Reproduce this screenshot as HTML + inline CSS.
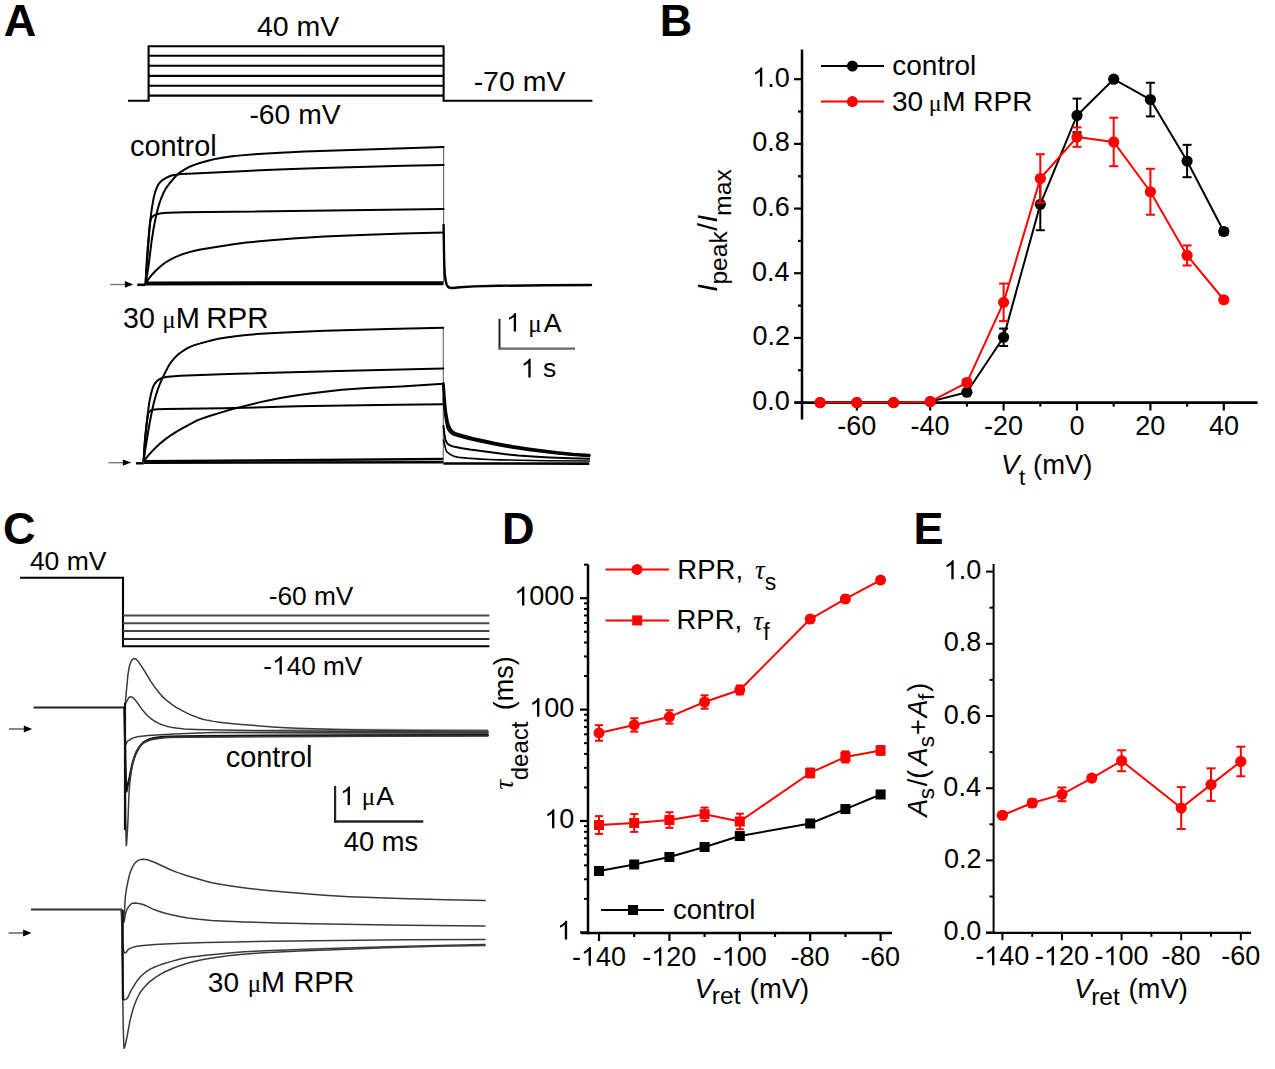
<!DOCTYPE html>
<html><head><meta charset="utf-8"><style>
html,body{margin:0;padding:0;background:#fff;}
body{width:1275px;height:1069px;overflow:hidden;font-family:"Liberation Sans", sans-serif;}
svg{display:block;}
</style></head><body>
<svg width="1275" height="1069" viewBox="0 0 1275 1069">
<text x="3.78" y="36.3" font-family='"Liberation Sans", sans-serif' font-size="45" font-weight="bold" font-style="normal" fill="#000">A</text>
<path d="M128,100.7 L148.6,100.7 L148.6,46.2 L443.6,46.2 L443.6,100.7 L592.4,100.7" fill="none" stroke="#000" stroke-width="2.1" stroke-linejoin="miter"/>
<line x1="148.6" y1="55.7" x2="443.6" y2="55.7" stroke="#000" stroke-width="2.1" stroke-linecap="butt"/>
<line x1="148.6" y1="65.7" x2="443.6" y2="65.7" stroke="#000" stroke-width="2.1" stroke-linecap="butt"/>
<line x1="148.6" y1="75.9" x2="443.6" y2="75.9" stroke="#000" stroke-width="2.1" stroke-linecap="butt"/>
<line x1="148.6" y1="85.8" x2="443.6" y2="85.8" stroke="#000" stroke-width="2.1" stroke-linecap="butt"/>
<line x1="148.6" y1="95.6" x2="443.6" y2="95.6" stroke="#000" stroke-width="2.1" stroke-linecap="butt"/>
<text x="256.95" y="35.8" font-family='"Liberation Sans", sans-serif' font-size="28.5" font-weight="normal" font-style="normal" fill="#000">40 mV</text>
<text x="249.44" y="123.8" font-family='"Liberation Sans", sans-serif' font-size="28.3" font-weight="normal" font-style="normal" fill="#000">-60 mV</text>
<text x="473.63" y="91.3" font-family='"Liberation Sans", sans-serif' font-size="28.5" font-weight="normal" font-style="normal" fill="#000">-70 mV</text>
<text x="129.97" y="156.4" font-family='"Liberation Sans", sans-serif' font-size="28.9" font-weight="normal" font-style="normal" fill="#000">control</text>
<line x1="110.2" y1="284.5" x2="125.5" y2="284.5" stroke="#777" stroke-width="1.4" stroke-linecap="butt"/>
<path d="M133.3,284.4 l-8.4,-3.4 l0,6.8 z" fill="#000"/>
<line x1="137.3" y1="284.8" x2="145.5" y2="284.8" stroke="#000" stroke-width="2.6" stroke-linecap="butt"/>
<line x1="145.5" y1="283.4" x2="443.6" y2="283.2" stroke="#000" stroke-width="4.0" stroke-linecap="butt"/>
<line x1="443.6" y1="146.9" x2="443.6" y2="283" stroke="#666" stroke-width="1.1" stroke-linecap="butt"/>
<path d="M443.60,225.00 444.10,258.43 444.40,267.01 444.80,273.89 445.40,279.08 446.20,283.14 446.70,284.45 447.50,286.00 448.20,286.95 448.90,287.46 450.90,287.93 452.80,287.99 459.90,287.31 474.10,286.42 498.70,285.79 547.00,285.25 591.00,285.00" fill="none" stroke="#000" stroke-width="2.4" stroke-linejoin="round" stroke-linecap="round" stroke-opacity="1"/>
<path d="M145.50,283.30 149.20,232.51 149.90,224.20 150.80,216.02 151.70,209.34 153.00,201.46 154.10,195.97 155.00,192.65 156.50,188.32 157.80,185.40 159.00,183.50 161.00,181.36 163.30,179.55 166.60,177.64 170.10,175.98 172.60,175.20 176.20,174.64 181.20,174.11 188.20,173.63 246.50,170.93 285.10,169.33 322.30,167.96 359.20,166.90 404.00,165.81 443.60,165.10" fill="none" stroke="#000" stroke-width="2.0" stroke-linejoin="round" stroke-linecap="round" stroke-opacity="1"/>
<path d="M145.80,283.30 148.50,266.30 151.60,241.00 153.80,227.28 155.50,218.60 157.50,209.92 158.90,204.91 161.10,198.54 163.50,192.84 166.10,188.13 169.20,183.73 173.80,178.29 177.20,174.75 180.10,172.30 184.70,169.29 189.60,166.74 194.30,164.83 199.80,163.01 209.80,160.22 216.50,158.65 223.60,157.49 232.30,156.34 241.30,155.38 251.30,154.52 275.70,152.90 304.60,151.53 443.60,146.90" fill="none" stroke="#000" stroke-width="2.0" stroke-linejoin="round" stroke-linecap="round" stroke-opacity="1"/>
<path d="M145.60,283.30 146.30,268.08 147.40,251.21 149.30,229.62 150.30,221.27 150.60,220.00 151.30,218.29 152.00,217.16 152.80,216.32 153.70,215.66 154.70,215.14 156.90,214.31 159.00,213.69 161.60,213.23 167.60,212.81 185.40,212.30 443.60,209.00" fill="none" stroke="#000" stroke-width="2.0" stroke-linejoin="round" stroke-linecap="round" stroke-opacity="1"/>
<path d="M145.70,283.20 148.30,279.42 150.70,276.26 153.10,273.46 155.70,270.77 158.90,267.79 163.00,264.32 165.50,262.49 168.70,260.53 172.60,258.41 176.50,256.56 180.20,255.06 184.90,253.43 189.30,252.11 193.70,250.99 199.10,249.85 205.20,248.74 231.80,244.56 246.30,242.60 268.10,240.45 292.80,238.55 324.40,236.62 354.50,235.19 403.60,233.45 443.60,232.50" fill="none" stroke="#000" stroke-width="2.0" stroke-linejoin="round" stroke-linecap="round" stroke-opacity="1"/>
<text x="123.11" y="327.6" font-family='"Liberation Sans", sans-serif' font-size="28.6" font-weight="normal" font-style="normal" fill="#000">30</text>
<text x="162.37" y="327.6" font-family='"Liberation Serif", serif' font-size="25" font-weight="normal" font-style="normal" fill="#000">μ</text>
<text x="175.82" y="327.6" font-family='"Liberation Sans", sans-serif' font-size="29" font-weight="normal" font-style="normal" fill="#000">M</text>
<text x="206.18" y="327.6" font-family='"Liberation Sans", sans-serif' font-size="29.5" font-weight="normal" font-style="normal" fill="#000">RPR</text>
<line x1="108.6" y1="462.7" x2="123.5" y2="462.7" stroke="#777" stroke-width="1.4" stroke-linecap="butt"/>
<path d="M131.2,462.6 l-8.4,-3.2 l0,6.4 z" fill="#000"/>
<line x1="136" y1="463.3" x2="143.6" y2="463.3" stroke="#000" stroke-width="2.4" stroke-linecap="butt"/>
<line x1="143.6" y1="462.6" x2="443.3" y2="462.3" stroke="#000" stroke-width="2.6" stroke-linecap="butt"/>
<line x1="143.6" y1="461.2" x2="443.3" y2="459" stroke="#000" stroke-width="2.4" stroke-linecap="butt"/>
<line x1="443.3" y1="327.8" x2="443.3" y2="462" stroke="#666" stroke-width="1.1" stroke-linecap="butt"/>
<line x1="443.3" y1="463.5" x2="589.3" y2="463.6" stroke="#000" stroke-width="2.6" stroke-linecap="butt"/>
<path d="M143.60,461.00 145.60,447.58 148.50,429.52 150.00,421.10 152.20,410.03 153.90,402.58 155.80,395.61 157.80,389.35 159.90,383.82 162.80,377.36 167.70,367.59 170.10,363.51 172.50,360.34 176.30,356.19 178.30,354.36 180.30,352.74 185.40,349.33 188.00,347.88 190.60,346.63 194.50,345.11 199.40,343.60 211.10,340.45 218.40,338.82 228.00,337.22 237.50,335.90 246.20,334.95 256.50,334.10 269.90,333.21 285.00,332.40 325.00,330.77 387.60,328.98 443.30,327.80" fill="none" stroke="#000" stroke-width="2.0" stroke-linejoin="round" stroke-linecap="round" stroke-opacity="1"/>
<path d="M143.60,461.00 145.00,440.52 146.70,422.55 149.00,404.32 149.80,399.57 151.00,394.19 152.10,389.99 153.10,386.93 154.00,384.93 155.30,383.02 157.00,381.08 158.80,379.63 161.00,378.49 163.70,377.48 165.80,376.96 168.10,376.67 180.10,375.72 228.30,373.88 348.60,370.71 443.30,368.60" fill="none" stroke="#000" stroke-width="2.0" stroke-linejoin="round" stroke-linecap="round" stroke-opacity="1"/>
<path d="M143.60,461.00 144.30,447.74 145.10,437.81 146.10,428.44 147.90,415.13 148.40,413.01 149.10,411.99 150.70,410.58 151.60,410.11 152.50,409.85 157.80,409.34 165.30,409.07 222.80,408.27 296.80,406.32 378.50,404.97 443.30,404.30" fill="none" stroke="#000" stroke-width="2.0" stroke-linejoin="round" stroke-linecap="round" stroke-opacity="1"/>
<path d="M143.70,461.00 148.20,455.55 152.40,450.87 156.30,446.96 160.60,443.10 165.50,439.15 170.80,435.31 175.80,432.05 181.70,428.59 193.90,422.01 197.80,420.19 201.80,418.60 208.10,416.44 222.10,412.13 231.00,409.52 238.90,407.38 260.30,402.13 269.30,400.17 277.70,398.53 289.30,396.52 300.90,394.72 312.10,393.18 324.70,391.66 341.80,389.83 356.10,388.65 366.70,388.04 401.30,386.41 443.30,383.70" fill="none" stroke="#000" stroke-width="2.0" stroke-linejoin="round" stroke-linecap="round" stroke-opacity="1"/>
<path d="M443.30,383.70 444.30,397.68 445.40,409.33 446.10,414.62 447.40,421.55 448.50,425.50 450.30,429.19 451.20,430.52 452.10,431.52 453.00,432.20 454.30,432.92 456.60,433.85 462.70,435.75 472.90,438.39 494.90,443.17 503.90,444.91 512.50,446.42 530.60,449.16 556.40,452.57 573.20,454.18 589.30,455.30" fill="none" stroke="#000" stroke-width="3.0" stroke-linejoin="round" stroke-linecap="round" stroke-opacity="1"/>
<path d="M443.30,398.00 444.10,407.70 444.80,414.50 446.00,422.40 447.00,427.09 447.40,428.28 448.10,429.67 449.80,432.17 451.50,433.69 453.80,434.85 456.00,435.59 466.50,438.52 479.60,441.69 495.50,444.96 512.10,447.84 531.00,450.57 553.70,453.33 571.40,455.01 589.30,456.30" fill="none" stroke="#000" stroke-width="1.8" stroke-linejoin="round" stroke-linecap="round" stroke-opacity="1"/>
<path d="M443.50,426.00 444.30,433.31 444.90,437.59 445.30,439.30 446.50,442.09 447.60,443.75 448.70,444.70 451.30,445.92 454.60,446.85 461.90,448.33 470.00,449.59 504.00,454.05 518.40,455.61 532.50,456.60 549.60,457.47 570.10,458.22 589.30,458.70" fill="none" stroke="#000" stroke-width="2.0" stroke-linejoin="round" stroke-linecap="round" stroke-opacity="1"/>
<path d="M443.50,440.00 445.60,448.70 446.30,450.81 446.90,451.90 449.50,453.94 452.30,455.51 455.30,456.63 458.60,457.33 467.20,458.16 477.50,458.91 488.30,459.46 500.30,459.88 547.60,460.71 589.30,461.00" fill="none" stroke="#000" stroke-width="1.6" stroke-linejoin="round" stroke-linecap="round" stroke-opacity="1"/>
<line x1="499.5" y1="318.8" x2="499.5" y2="349.5" stroke="#222" stroke-width="2.0" stroke-linecap="butt"/>
<line x1="498.5" y1="348.6" x2="575" y2="348.6" stroke="#666" stroke-width="2.4" stroke-linecap="butt"/>
<path transform="translate(506.18,331.5) scale(0.01294,-0.01262)" d="M763,0H583V1147Q518,1085 412,1023Q306,961 222,930V1104Q373,1175 486,1276Q599,1377 646,1472H763Z" fill="#000"/>
<text x="528.27" y="331.5" font-family='"Liberation Serif", serif' font-size="25" font-weight="normal" font-style="normal" fill="#000">μ</text>
<text x="543.75" y="331.5" font-family='"Liberation Sans", sans-serif' font-size="26.5" font-weight="normal" font-style="normal" fill="#000">A</text>
<path transform="translate(520.78,377.4) scale(0.01294,-0.01262)" d="M763,0H583V1147Q518,1085 412,1023Q306,961 222,930V1104Q373,1175 486,1276Q599,1377 646,1472H763Z" fill="#000"/>
<text x="542.88" y="377.4" font-family='"Liberation Sans", sans-serif' font-size="26.5" font-weight="normal" font-style="normal" fill="#000">s</text>
<text x="659.79" y="36.3" font-family='"Liberation Sans", sans-serif' font-size="45" font-weight="bold" font-style="normal" fill="#000">B</text>
<line x1="802" y1="49.6" x2="802" y2="419.6" stroke="#000" stroke-width="2.5" stroke-linecap="butt"/>
<line x1="795" y1="402.6" x2="1257.6" y2="402.6" stroke="#000" stroke-width="2.6" stroke-linecap="butt"/>
<line x1="794" y1="402.6" x2="802" y2="402.6" stroke="#000" stroke-width="2.2" stroke-linecap="butt"/>
<text x="752.22" y="409.9" font-family='"Liberation Sans", sans-serif' font-size="27" font-weight="normal" font-style="normal" fill="#000">0.0</text>
<line x1="798" y1="370.26" x2="802" y2="370.26" stroke="#000" stroke-width="2.2" stroke-linecap="butt"/>
<line x1="794" y1="337.92" x2="802" y2="337.92" stroke="#000" stroke-width="2.2" stroke-linecap="butt"/>
<text x="752.52" y="345.22" font-family='"Liberation Sans", sans-serif' font-size="27" font-weight="normal" font-style="normal" fill="#000">0.2</text>
<line x1="798" y1="305.58" x2="802" y2="305.58" stroke="#000" stroke-width="2.2" stroke-linecap="butt"/>
<line x1="794" y1="273.24" x2="802" y2="273.24" stroke="#000" stroke-width="2.2" stroke-linecap="butt"/>
<text x="751.96" y="280.54" font-family='"Liberation Sans", sans-serif' font-size="27" font-weight="normal" font-style="normal" fill="#000">0.4</text>
<line x1="798" y1="240.9" x2="802" y2="240.9" stroke="#000" stroke-width="2.2" stroke-linecap="butt"/>
<line x1="794" y1="208.56" x2="802" y2="208.56" stroke="#000" stroke-width="2.2" stroke-linecap="butt"/>
<text x="752.35" y="215.86" font-family='"Liberation Sans", sans-serif' font-size="27" font-weight="normal" font-style="normal" fill="#000">0.6</text>
<line x1="798" y1="176.22" x2="802" y2="176.22" stroke="#000" stroke-width="2.2" stroke-linecap="butt"/>
<line x1="794" y1="143.88" x2="802" y2="143.88" stroke="#000" stroke-width="2.2" stroke-linecap="butt"/>
<text x="752.34" y="151.18" font-family='"Liberation Sans", sans-serif' font-size="27" font-weight="normal" font-style="normal" fill="#000">0.8</text>
<line x1="798" y1="111.54" x2="802" y2="111.54" stroke="#000" stroke-width="2.2" stroke-linecap="butt"/>
<line x1="794" y1="79.2" x2="802" y2="79.2" stroke="#000" stroke-width="2.2" stroke-linecap="butt"/>
<path transform="translate(752.22,86.5) scale(0.01318,-0.01285)" d="M763,0H583V1147Q518,1085 412,1023Q306,961 222,930V1104Q373,1175 486,1276Q599,1377 646,1472H763Z" fill="#000"/>
<text x="767.24" y="86.5" font-family='"Liberation Sans", sans-serif' font-size="27" font-weight="normal" font-style="normal" fill="#000">.0</text>
<line x1="820.1" y1="402.6" x2="820.1" y2="406.6" stroke="#000" stroke-width="2.2" stroke-linecap="butt"/>
<line x1="856.8" y1="402.6" x2="856.8" y2="410.5" stroke="#000" stroke-width="2.2" stroke-linecap="butt"/>
<text x="837.22" y="434.6" font-family='"Liberation Sans", sans-serif' font-size="27" font-weight="normal" font-style="normal" fill="#000">-60</text>
<line x1="893.5" y1="402.6" x2="893.5" y2="406.6" stroke="#000" stroke-width="2.2" stroke-linecap="butt"/>
<line x1="930.2" y1="402.6" x2="930.2" y2="410.5" stroke="#000" stroke-width="2.2" stroke-linecap="butt"/>
<text x="910.62" y="434.6" font-family='"Liberation Sans", sans-serif' font-size="27" font-weight="normal" font-style="normal" fill="#000">-40</text>
<line x1="966.9" y1="402.6" x2="966.9" y2="406.6" stroke="#000" stroke-width="2.2" stroke-linecap="butt"/>
<line x1="1003.6" y1="402.6" x2="1003.6" y2="410.5" stroke="#000" stroke-width="2.2" stroke-linecap="butt"/>
<text x="984.02" y="434.6" font-family='"Liberation Sans", sans-serif' font-size="27" font-weight="normal" font-style="normal" fill="#000">-20</text>
<line x1="1040.3" y1="402.6" x2="1040.3" y2="406.6" stroke="#000" stroke-width="2.2" stroke-linecap="butt"/>
<line x1="1077" y1="402.6" x2="1077" y2="410.5" stroke="#000" stroke-width="2.2" stroke-linecap="butt"/>
<text x="1069.49" y="434.6" font-family='"Liberation Sans", sans-serif' font-size="27" font-weight="normal" font-style="normal" fill="#000">0</text>
<line x1="1113.7" y1="402.6" x2="1113.7" y2="406.6" stroke="#000" stroke-width="2.2" stroke-linecap="butt"/>
<line x1="1150.4" y1="402.6" x2="1150.4" y2="410.5" stroke="#000" stroke-width="2.2" stroke-linecap="butt"/>
<text x="1135.23" y="434.6" font-family='"Liberation Sans", sans-serif' font-size="27" font-weight="normal" font-style="normal" fill="#000">20</text>
<line x1="1187.1" y1="402.6" x2="1187.1" y2="406.6" stroke="#000" stroke-width="2.2" stroke-linecap="butt"/>
<line x1="1223.8" y1="402.6" x2="1223.8" y2="410.5" stroke="#000" stroke-width="2.2" stroke-linecap="butt"/>
<text x="1209" y="434.6" font-family='"Liberation Sans", sans-serif' font-size="27" font-weight="normal" font-style="normal" fill="#000">40</text>
<text x="1001.12" y="473.5" font-family='"Liberation Sans", sans-serif' font-size="27.5" font-weight="normal" font-style="italic" fill="#000">V</text>
<text x="1019.06" y="485.2" font-family='"Liberation Sans", sans-serif' font-size="22.5" font-weight="normal" font-style="normal" fill="#000">t</text>
<text x="1033.1" y="473.5" font-family='"Liberation Sans", sans-serif' font-size="27.4" font-weight="normal" font-style="normal" fill="#000">(mV)</text>
<text transform="translate(716.5,291.79) rotate(-90)" font-family='"Liberation Sans", sans-serif' font-size="27.5" font-weight="normal" font-style="italic" fill="#000">I</text>
<text transform="translate(727.3,284.59) rotate(-90)" font-family='"Liberation Sans", sans-serif' font-size="24.6" font-weight="normal" font-style="normal" fill="#000">peak</text>
<text transform="translate(716.5,230.7) rotate(-90)" font-family='"Liberation Sans", sans-serif' font-size="27.5" font-weight="normal" font-style="normal" fill="#000">/</text>
<text transform="translate(716.5,222.59) rotate(-90)" font-family='"Liberation Sans", sans-serif' font-size="27.5" font-weight="normal" font-style="italic" fill="#000">I</text>
<text transform="translate(730.8,215.95) rotate(-90)" font-family='"Liberation Sans", sans-serif' font-size="24.8" font-weight="normal" font-style="normal" fill="#000">max</text>
<line x1="821" y1="66.1" x2="884" y2="66.1" stroke="#000" stroke-width="2" stroke-linecap="butt"/>
<circle cx="852.4" cy="66.1" r="5.5" fill="#000"/>
<text x="892.31" y="74.5" font-family='"Liberation Sans", sans-serif' font-size="28" font-weight="normal" font-style="normal" fill="#000">control</text>
<line x1="821" y1="101.6" x2="884" y2="101.6" stroke="#f00" stroke-width="2" stroke-linecap="butt"/>
<circle cx="852.4" cy="101.6" r="5.5" fill="#f00"/>
<text x="891.93" y="110.9" font-family='"Liberation Sans", sans-serif' font-size="28" font-weight="normal" font-style="normal" fill="#000">30</text>
<text x="928.75" y="110.9" font-family='"Liberation Serif", serif' font-size="24" font-weight="normal" font-style="normal" fill="#000">μ</text>
<text x="942.2" y="110.9" font-family='"Liberation Sans", sans-serif' font-size="28" font-weight="normal" font-style="normal" fill="#000">M RPR</text>
<path d="M820.1,402.6 L856.8,402.6 L893.5,402.6 L930.2,401.63 L966.9,392.25 L1003.6,337.27 L1040.3,204.36 L1077,115.42 L1113.7,79.2 L1150.4,99.57 L1187.1,161.02 L1223.8,231.52" fill="none" stroke="#000" stroke-width="2" stroke-linejoin="round"/>
<circle cx="820.1" cy="402.6" r="5.6" fill="#000"/>
<circle cx="856.8" cy="402.6" r="5.6" fill="#000"/>
<circle cx="893.5" cy="402.6" r="5.6" fill="#000"/>
<circle cx="930.2" cy="401.63" r="5.6" fill="#000"/>
<line x1="966.9" y1="390.63" x2="966.9" y2="393.87" stroke="#000" stroke-width="2" stroke-linecap="butt"/>
<line x1="962.4" y1="390.63" x2="971.4" y2="390.63" stroke="#000" stroke-width="2" stroke-linecap="butt"/>
<line x1="962.4" y1="393.87" x2="971.4" y2="393.87" stroke="#000" stroke-width="2" stroke-linecap="butt"/>
<circle cx="966.9" cy="392.25" r="5.6" fill="#000"/>
<line x1="1003.6" y1="328.54" x2="1003.6" y2="346" stroke="#000" stroke-width="2" stroke-linecap="butt"/>
<line x1="999.1" y1="328.54" x2="1008.1" y2="328.54" stroke="#000" stroke-width="2" stroke-linecap="butt"/>
<line x1="999.1" y1="346" x2="1008.1" y2="346" stroke="#000" stroke-width="2" stroke-linecap="butt"/>
<circle cx="1003.6" cy="337.27" r="5.6" fill="#000"/>
<line x1="1040.3" y1="178.48" x2="1040.3" y2="230.23" stroke="#000" stroke-width="2" stroke-linecap="butt"/>
<line x1="1035.8" y1="178.48" x2="1044.8" y2="178.48" stroke="#000" stroke-width="2" stroke-linecap="butt"/>
<line x1="1035.8" y1="230.23" x2="1044.8" y2="230.23" stroke="#000" stroke-width="2" stroke-linecap="butt"/>
<circle cx="1040.3" cy="204.36" r="5.6" fill="#000"/>
<line x1="1077" y1="98.6" x2="1077" y2="132.24" stroke="#000" stroke-width="2" stroke-linecap="butt"/>
<line x1="1072.5" y1="98.6" x2="1081.5" y2="98.6" stroke="#000" stroke-width="2" stroke-linecap="butt"/>
<line x1="1072.5" y1="132.24" x2="1081.5" y2="132.24" stroke="#000" stroke-width="2" stroke-linecap="butt"/>
<circle cx="1077" cy="115.42" r="5.6" fill="#000"/>
<circle cx="1113.7" cy="79.2" r="5.6" fill="#000"/>
<line x1="1150.4" y1="82.76" x2="1150.4" y2="116.39" stroke="#000" stroke-width="2" stroke-linecap="butt"/>
<line x1="1145.9" y1="82.76" x2="1154.9" y2="82.76" stroke="#000" stroke-width="2" stroke-linecap="butt"/>
<line x1="1145.9" y1="116.39" x2="1154.9" y2="116.39" stroke="#000" stroke-width="2" stroke-linecap="butt"/>
<circle cx="1150.4" cy="99.57" r="5.6" fill="#000"/>
<line x1="1187.1" y1="144.85" x2="1187.1" y2="177.19" stroke="#000" stroke-width="2" stroke-linecap="butt"/>
<line x1="1182.6" y1="144.85" x2="1191.6" y2="144.85" stroke="#000" stroke-width="2" stroke-linecap="butt"/>
<line x1="1182.6" y1="177.19" x2="1191.6" y2="177.19" stroke="#000" stroke-width="2" stroke-linecap="butt"/>
<circle cx="1187.1" cy="161.02" r="5.6" fill="#000"/>
<line x1="1223.8" y1="228.29" x2="1223.8" y2="234.76" stroke="#000" stroke-width="2" stroke-linecap="butt"/>
<line x1="1219.3" y1="228.29" x2="1228.3" y2="228.29" stroke="#000" stroke-width="2" stroke-linecap="butt"/>
<line x1="1219.3" y1="234.76" x2="1228.3" y2="234.76" stroke="#000" stroke-width="2" stroke-linecap="butt"/>
<circle cx="1223.8" cy="231.52" r="5.6" fill="#000"/>
<path d="M820.1,402.6 L856.8,402.6 L893.5,402.6 L930.2,401.63 L966.9,382.55 L1003.6,302.35 L1040.3,178.48 L1077,137.09 L1113.7,141.94 L1150.4,191.74 L1187.1,255.45 L1223.8,299.76" fill="none" stroke="#f00" stroke-width="2" stroke-linejoin="round"/>
<circle cx="820.1" cy="402.6" r="5.6" fill="#f00"/>
<circle cx="856.8" cy="402.6" r="5.6" fill="#f00"/>
<circle cx="893.5" cy="402.6" r="5.6" fill="#f00"/>
<circle cx="930.2" cy="401.63" r="5.6" fill="#f00"/>
<line x1="966.9" y1="379.32" x2="966.9" y2="385.78" stroke="#f00" stroke-width="2" stroke-linecap="butt"/>
<line x1="962.4" y1="379.32" x2="971.4" y2="379.32" stroke="#f00" stroke-width="2" stroke-linecap="butt"/>
<line x1="962.4" y1="385.78" x2="971.4" y2="385.78" stroke="#f00" stroke-width="2" stroke-linecap="butt"/>
<circle cx="966.9" cy="382.55" r="5.6" fill="#f00"/>
<line x1="1003.6" y1="283.59" x2="1003.6" y2="321.1" stroke="#f00" stroke-width="2" stroke-linecap="butt"/>
<line x1="999.1" y1="283.59" x2="1008.1" y2="283.59" stroke="#f00" stroke-width="2" stroke-linecap="butt"/>
<line x1="999.1" y1="321.1" x2="1008.1" y2="321.1" stroke="#f00" stroke-width="2" stroke-linecap="butt"/>
<circle cx="1003.6" cy="302.35" r="5.6" fill="#f00"/>
<line x1="1040.3" y1="154.23" x2="1040.3" y2="202.74" stroke="#f00" stroke-width="2" stroke-linecap="butt"/>
<line x1="1035.8" y1="154.23" x2="1044.8" y2="154.23" stroke="#f00" stroke-width="2" stroke-linecap="butt"/>
<line x1="1035.8" y1="202.74" x2="1044.8" y2="202.74" stroke="#f00" stroke-width="2" stroke-linecap="butt"/>
<circle cx="1040.3" cy="178.48" r="5.6" fill="#f00"/>
<line x1="1077" y1="127.39" x2="1077" y2="146.79" stroke="#f00" stroke-width="2" stroke-linecap="butt"/>
<line x1="1072.5" y1="127.39" x2="1081.5" y2="127.39" stroke="#f00" stroke-width="2" stroke-linecap="butt"/>
<line x1="1072.5" y1="146.79" x2="1081.5" y2="146.79" stroke="#f00" stroke-width="2" stroke-linecap="butt"/>
<circle cx="1077" cy="137.09" r="5.6" fill="#f00"/>
<line x1="1113.7" y1="117.68" x2="1113.7" y2="166.19" stroke="#f00" stroke-width="2" stroke-linecap="butt"/>
<line x1="1109.2" y1="117.68" x2="1118.2" y2="117.68" stroke="#f00" stroke-width="2" stroke-linecap="butt"/>
<line x1="1109.2" y1="166.19" x2="1118.2" y2="166.19" stroke="#f00" stroke-width="2" stroke-linecap="butt"/>
<circle cx="1113.7" cy="141.94" r="5.6" fill="#f00"/>
<line x1="1150.4" y1="168.78" x2="1150.4" y2="214.7" stroke="#f00" stroke-width="2" stroke-linecap="butt"/>
<line x1="1145.9" y1="168.78" x2="1154.9" y2="168.78" stroke="#f00" stroke-width="2" stroke-linecap="butt"/>
<line x1="1145.9" y1="214.7" x2="1154.9" y2="214.7" stroke="#f00" stroke-width="2" stroke-linecap="butt"/>
<circle cx="1150.4" cy="191.74" r="5.6" fill="#f00"/>
<line x1="1187.1" y1="245.43" x2="1187.1" y2="265.48" stroke="#f00" stroke-width="2" stroke-linecap="butt"/>
<line x1="1182.6" y1="245.43" x2="1191.6" y2="245.43" stroke="#f00" stroke-width="2" stroke-linecap="butt"/>
<line x1="1182.6" y1="265.48" x2="1191.6" y2="265.48" stroke="#f00" stroke-width="2" stroke-linecap="butt"/>
<circle cx="1187.1" cy="255.45" r="5.6" fill="#f00"/>
<circle cx="1223.8" cy="299.76" r="5.6" fill="#f00"/>
<text x="3.05" y="544" font-family='"Liberation Sans", sans-serif' font-size="45" font-weight="bold" font-style="normal" fill="#000">C</text>
<path d="M20,577.7 L123,577.7 L123,646.3 L489.4,646.3" fill="none" stroke="#000" stroke-width="2.1" stroke-linejoin="miter"/>
<line x1="123" y1="615.5" x2="489.4" y2="615.5" stroke="#4a4a4a" stroke-width="2.0" stroke-linecap="butt"/>
<line x1="123" y1="623.2" x2="489.4" y2="623.2" stroke="#4a4a4a" stroke-width="2.0" stroke-linecap="butt"/>
<line x1="123" y1="631" x2="489.4" y2="631" stroke="#444" stroke-width="2.0" stroke-linecap="butt"/>
<line x1="123" y1="638.9" x2="489.4" y2="638.9" stroke="#2a2a2a" stroke-width="2.0" stroke-linecap="butt"/>
<text x="29.89" y="570.3" font-family='"Liberation Sans", sans-serif' font-size="26.5" font-weight="normal" font-style="normal" fill="#000">40 mV</text>
<text x="268.63" y="605" font-family='"Liberation Sans", sans-serif' font-size="26.3" font-weight="normal" font-style="normal" fill="#000">-60 mV</text>
<text x="263.34" y="674.5" font-family='"Liberation Sans", sans-serif' font-size="26.2" font-weight="normal" font-style="normal" fill="#000">-</text>
<path transform="translate(272.06,674.5) scale(0.01279,-0.01247)" d="M763,0H583V1147Q518,1085 412,1023Q306,961 222,930V1104Q373,1175 486,1276Q599,1377 646,1472H763Z" fill="#000"/>
<text x="286.63" y="674.5" font-family='"Liberation Sans", sans-serif' font-size="26.2" font-weight="normal" font-style="normal" fill="#000">40 mV</text>
<line x1="9" y1="729" x2="24.5" y2="729" stroke="#555" stroke-width="1.4" stroke-linecap="butt"/>
<path d="M32.2,729 l-8.4,-3.4 l0,6.8 z" fill="#000"/>
<line x1="33.6" y1="707.5" x2="124.4" y2="707.5" stroke="#222" stroke-width="2.2" stroke-linecap="butt"/>
<defs><linearGradient id="bandg" x1="0" x2="1" y1="0" y2="0"><stop offset="0" stop-color="#666" stop-opacity="0"/><stop offset="0.35" stop-color="#666" stop-opacity="0.55"/><stop offset="1" stop-color="#555" stop-opacity="0.7"/></linearGradient></defs><path d="M200,731.5 L300,728.6 L488,729.2 L488,736.4 L300,737.4 L200,737.8 Z" fill="url(#bandg)"/>
<path d="M124.40,707.50 124.90,705.06 125.50,700.76 127.90,674.91 129.10,667.53 130.00,664.00 131.30,660.99 131.90,660.11 133.00,658.99 133.70,658.52 134.30,658.40 135.20,658.67 136.50,659.50 137.80,660.92 141.40,666.10 144.20,670.40 150.80,681.36 153.70,685.63 156.40,689.30 159.50,693.19 161.80,695.85 163.80,697.89 166.50,700.30 170.80,703.66 175.80,707.03 180.80,709.95 187.00,713.13 192.40,715.57 198.00,717.67 202.90,719.21 207.80,720.36 213.40,721.37 221.20,722.41 230.80,723.50 241.40,724.50 273.00,726.89 285.80,727.66 297.40,728.20 337.20,729.43 378.70,730.30 441.10,731.04 488.00,731.30" fill="none" stroke="#3a3a3a" stroke-width="1.5" stroke-linejoin="round" stroke-linecap="round" stroke-opacity="1"/>
<path d="M124.40,707.50 125.10,705.13 125.80,703.28 128.50,698.04 129.00,697.50 130.00,696.99 130.80,696.80 131.50,696.92 133.30,698.02 134.80,699.56 137.20,702.54 142.30,709.82 146.80,714.93 150.20,718.07 152.80,719.97 155.20,721.52 157.70,722.91 160.00,723.94 163.90,725.35 167.60,726.43 170.80,727.14 176.00,728.01 180.40,728.59 184.40,728.95 194.90,729.46 207.70,729.84 252.90,730.58 385.20,731.66 488.00,732.00" fill="none" stroke="#3a3a3a" stroke-width="1.5" stroke-linejoin="round" stroke-linecap="round" stroke-opacity="1"/>
<path d="M124.40,707.50 125.00,730.00 125.40,740.84 125.70,744.60 126.00,744.32 126.80,742.35 127.30,741.64 128.50,740.53 130.40,739.26 132.20,738.32 134.10,737.64 136.60,736.98 139.20,736.53 148.10,735.51 160.50,734.66 173.60,734.03 206.00,732.76 214.80,732.60 335.30,732.63 488.00,733.00" fill="none" stroke="#3a3a3a" stroke-width="1.5" stroke-linejoin="round" stroke-linecap="round" stroke-opacity="1"/>
<path d="M124.40,707.50 125.50,765.83 126.00,785.99 126.30,791.70 126.50,791.40 126.70,790.62 127.50,786.00 129.70,776.65 132.30,764.07 133.70,759.33 135.00,755.57 136.20,752.69 137.50,750.22 139.30,747.26 141.00,744.91 142.60,743.18 144.20,741.97 147.10,740.32 150.00,739.11 152.40,738.44 157.00,737.61 162.60,736.92 168.30,736.62 181.00,736.32 201.80,736.09 365.30,735.25 488.00,735.00" fill="none" stroke="#111" stroke-width="2.2" stroke-linejoin="round" stroke-linecap="round" stroke-opacity="1"/>
<path d="M124.40,707.50 125.60,813.59 126.00,837.04 126.30,845.60 126.50,844.64 126.70,842.30 127.50,829.87 128.10,817.52 128.90,795.49 129.40,787.65 130.00,781.30 130.90,774.16 131.90,767.53 132.80,762.85 134.30,757.06 135.70,752.77 136.80,750.34 138.60,747.67 140.80,745.19 143.10,743.37 146.70,741.43 150.20,740.09 152.40,739.54 157.10,738.72 165.20,737.75 169.80,737.50 186.20,737.22 346.10,736.31 488.00,736.00" fill="none" stroke="#3a3a3a" stroke-width="1.5" stroke-linejoin="round" stroke-linecap="round" stroke-opacity="1"/>
<line x1="125" y1="703" x2="125" y2="830" stroke="#111" stroke-width="2.2" stroke-linecap="butt"/>
<text x="225.77" y="766.8" font-family='"Liberation Sans", sans-serif' font-size="28.9" font-weight="normal" font-style="normal" fill="#000">control</text>
<line x1="335.1" y1="785.9" x2="335.1" y2="822.6" stroke="#222" stroke-width="2.2" stroke-linecap="butt"/>
<line x1="334" y1="821.5" x2="423.3" y2="821.5" stroke="#222" stroke-width="2.3" stroke-linecap="butt"/>
<path transform="translate(340.08,805) scale(0.01294,-0.01262)" d="M763,0H583V1147Q518,1085 412,1023Q306,961 222,930V1104Q373,1175 486,1276Q599,1377 646,1472H763Z" fill="#000"/>
<text x="361.77" y="805" font-family='"Liberation Serif", serif' font-size="25" font-weight="normal" font-style="normal" fill="#000">μ</text>
<text x="376.35" y="805" font-family='"Liberation Sans", sans-serif' font-size="26.5" font-weight="normal" font-style="normal" fill="#000">A</text>
<text x="343.77" y="850.7" font-family='"Liberation Sans", sans-serif' font-size="27.3" font-weight="normal" font-style="normal" fill="#000">40 ms</text>
<line x1="8.6" y1="933" x2="24" y2="933" stroke="#555" stroke-width="1.4" stroke-linecap="butt"/>
<path d="M31.5,933 l-8.4,-3.4 l0,6.8 z" fill="#000"/>
<line x1="31" y1="909.5" x2="121.5" y2="909.5" stroke="#333" stroke-width="2" stroke-linecap="butt"/>
<path d="M121.50,909.50 122.20,917.53 122.90,919.63 123.30,920.00 123.50,919.64 123.90,917.26 124.40,912.74 125.30,897.40 126.20,890.25 127.70,882.54 129.10,876.27 130.20,872.42 131.50,869.18 132.90,866.27 134.20,864.10 135.40,862.60 136.90,861.23 138.10,860.37 139.20,859.87 141.40,859.48 143.50,859.31 145.40,859.41 147.40,859.82 154.30,862.20 170.40,869.71 173.70,871.10 177.90,872.66 187.10,875.67 205.20,881.01 211.80,882.66 223.10,884.81 234.50,886.61 247.20,888.27 267.40,890.47 290.50,892.54 324.40,895.13 349.10,896.64 371.70,897.59 400.20,898.48 446.20,899.63 485.20,900.40" fill="none" stroke="#3a3a3a" stroke-width="1.5" stroke-linejoin="round" stroke-linecap="round" stroke-opacity="1"/>
<path d="M121.50,909.50 122.00,916.21 122.40,919.63 123.20,921.40 123.60,921.84 124.00,922.00 124.30,921.16 125.10,915.51 125.70,912.92 126.40,910.70 127.50,908.41 129.10,906.06 131.20,903.93 131.80,903.58 132.80,903.27 134.70,903.00 138.90,903.44 143.10,904.56 145.90,905.68 152.40,908.87 157.40,910.81 163.30,912.77 170.30,914.54 180.70,916.81 187.80,917.98 198.90,919.35 211.40,920.46 226.90,921.30 244.40,921.98 276.90,922.92 312.10,923.72 405.80,925.22 485.00,926.00" fill="none" stroke="#3a3a3a" stroke-width="1.5" stroke-linejoin="round" stroke-linecap="round" stroke-opacity="1"/>
<path d="M121.50,909.50 122.20,932.92 123.00,945.79 123.40,949.44 123.90,951.66 124.30,952.50 125.30,952.90 125.70,952.82 126.10,952.50 127.90,949.88 128.80,949.13 130.80,948.14 132.80,947.36 134.90,946.75 137.20,946.28 140.80,945.83 154.80,944.59 164.90,944.04 182.00,943.34 206.10,942.56 234.20,941.88 313.60,940.77 406.20,939.81 485.00,939.50" fill="none" stroke="#3a3a3a" stroke-width="1.5" stroke-linejoin="round" stroke-linecap="round" stroke-opacity="1"/>
<path d="M121.50,909.50 123.00,983.74 123.50,996.76 123.80,1000.00 124.70,999.85 125.80,999.37 126.80,998.75 127.40,998.06 128.30,996.48 131.00,990.67 135.70,982.84 138.80,978.46 140.40,976.70 143.00,974.27 145.40,972.32 147.80,970.62 150.70,968.91 154.20,967.23 158.10,965.66 162.70,964.07 172.40,961.10 178.40,959.44 183.40,958.30 189.20,957.31 195.80,956.39 203.60,955.48 229.60,952.92 244.00,951.86 265.20,950.79 320.60,948.80 387.10,946.72 438.30,945.40 485.00,944.50" fill="none" stroke="#3a3a3a" stroke-width="1.5" stroke-linejoin="round" stroke-linecap="round" stroke-opacity="1"/>
<path d="M121.50,909.50 123.20,1025.89 123.70,1042.53 123.90,1046.71 124.10,1048.30 124.50,1047.65 125.50,1044.10 127.00,1036.79 129.80,1021.69 131.50,1014.69 133.10,1009.00 135.20,1002.97 137.60,997.27 139.60,993.49 142.00,989.99 145.60,985.65 149.50,981.89 154.40,978.07 159.80,974.57 165.60,971.47 172.40,968.45 179.80,965.66 187.30,963.30 195.00,961.31 203.10,959.56 210.60,958.22 221.20,956.64 231.00,955.38 240.10,954.42 262.60,952.80 279.00,951.92 299.20,951.03 347.30,949.14 385.90,947.77 438.10,946.30 485.00,945.50" fill="none" stroke="#3a3a3a" stroke-width="1.5" stroke-linejoin="round" stroke-linecap="round" stroke-opacity="1"/>
<line x1="122.8" y1="910" x2="122.8" y2="1000" stroke="#111" stroke-width="2.0" stroke-linecap="butt"/>
<text x="207.83" y="992.2" font-family='"Liberation Sans", sans-serif' font-size="28" font-weight="normal" font-style="normal" fill="#000">30</text>
<text x="247.77" y="992.2" font-family='"Liberation Serif", serif' font-size="25" font-weight="normal" font-style="normal" fill="#000">μ</text>
<text x="260.94" y="992.2" font-family='"Liberation Sans", sans-serif' font-size="28.8" font-weight="normal" font-style="normal" fill="#000">M</text>
<text x="293.43" y="992.2" font-family='"Liberation Sans", sans-serif' font-size="28.9" font-weight="normal" font-style="normal" fill="#000">RPR</text>
<text x="501.89" y="544" font-family='"Liberation Sans", sans-serif' font-size="45" font-weight="bold" font-style="normal" fill="#000">D</text>
<line x1="588" y1="564.6" x2="588" y2="934.2" stroke="#000" stroke-width="2.5" stroke-linecap="butt"/>
<line x1="581" y1="933" x2="892" y2="933" stroke="#000" stroke-width="2.5" stroke-linecap="butt"/>
<line x1="580" y1="932.4" x2="588" y2="932.4" stroke="#000" stroke-width="2.2" stroke-linecap="butt"/>
<path transform="translate(557.1,939.6) scale(0.01318,-0.01285)" d="M763,0H583V1147Q518,1085 412,1023Q306,961 222,930V1104Q373,1175 486,1276Q599,1377 646,1472H763Z" fill="#000"/>
<line x1="584" y1="898.87" x2="588" y2="898.87" stroke="#000" stroke-width="2" stroke-linecap="butt"/>
<line x1="584" y1="879.25" x2="588" y2="879.25" stroke="#000" stroke-width="2" stroke-linecap="butt"/>
<line x1="584" y1="865.33" x2="588" y2="865.33" stroke="#000" stroke-width="2" stroke-linecap="butt"/>
<line x1="584" y1="854.53" x2="588" y2="854.53" stroke="#000" stroke-width="2" stroke-linecap="butt"/>
<line x1="584" y1="845.71" x2="588" y2="845.71" stroke="#000" stroke-width="2" stroke-linecap="butt"/>
<line x1="584" y1="838.26" x2="588" y2="838.26" stroke="#000" stroke-width="2" stroke-linecap="butt"/>
<line x1="584" y1="831.8" x2="588" y2="831.8" stroke="#000" stroke-width="2" stroke-linecap="butt"/>
<line x1="584" y1="826.1" x2="588" y2="826.1" stroke="#000" stroke-width="2" stroke-linecap="butt"/>
<line x1="580" y1="821" x2="588" y2="821" stroke="#000" stroke-width="2.2" stroke-linecap="butt"/>
<path transform="translate(544.32,828.2) scale(0.01318,-0.01285)" d="M763,0H583V1147Q518,1085 412,1023Q306,961 222,930V1104Q373,1175 486,1276Q599,1377 646,1472H763Z" fill="#000"/>
<text x="559.34" y="828.2" font-family='"Liberation Sans", sans-serif' font-size="27" font-weight="normal" font-style="normal" fill="#000">0</text>
<line x1="584" y1="787.47" x2="588" y2="787.47" stroke="#000" stroke-width="2" stroke-linecap="butt"/>
<line x1="584" y1="767.85" x2="588" y2="767.85" stroke="#000" stroke-width="2" stroke-linecap="butt"/>
<line x1="584" y1="753.93" x2="588" y2="753.93" stroke="#000" stroke-width="2" stroke-linecap="butt"/>
<line x1="584" y1="743.13" x2="588" y2="743.13" stroke="#000" stroke-width="2" stroke-linecap="butt"/>
<line x1="584" y1="734.31" x2="588" y2="734.31" stroke="#000" stroke-width="2" stroke-linecap="butt"/>
<line x1="584" y1="726.86" x2="588" y2="726.86" stroke="#000" stroke-width="2" stroke-linecap="butt"/>
<line x1="584" y1="720.4" x2="588" y2="720.4" stroke="#000" stroke-width="2" stroke-linecap="butt"/>
<line x1="584" y1="714.7" x2="588" y2="714.7" stroke="#000" stroke-width="2" stroke-linecap="butt"/>
<line x1="580" y1="709.6" x2="588" y2="709.6" stroke="#000" stroke-width="2.2" stroke-linecap="butt"/>
<path transform="translate(529.31,716.8) scale(0.01318,-0.01285)" d="M763,0H583V1147Q518,1085 412,1023Q306,961 222,930V1104Q373,1175 486,1276Q599,1377 646,1472H763Z" fill="#000"/>
<text x="544.32" y="716.8" font-family='"Liberation Sans", sans-serif' font-size="27" font-weight="normal" font-style="normal" fill="#000">00</text>
<line x1="584" y1="676.07" x2="588" y2="676.07" stroke="#000" stroke-width="2" stroke-linecap="butt"/>
<line x1="584" y1="656.45" x2="588" y2="656.45" stroke="#000" stroke-width="2" stroke-linecap="butt"/>
<line x1="584" y1="642.53" x2="588" y2="642.53" stroke="#000" stroke-width="2" stroke-linecap="butt"/>
<line x1="584" y1="631.73" x2="588" y2="631.73" stroke="#000" stroke-width="2" stroke-linecap="butt"/>
<line x1="584" y1="622.91" x2="588" y2="622.91" stroke="#000" stroke-width="2" stroke-linecap="butt"/>
<line x1="584" y1="615.46" x2="588" y2="615.46" stroke="#000" stroke-width="2" stroke-linecap="butt"/>
<line x1="584" y1="609" x2="588" y2="609" stroke="#000" stroke-width="2" stroke-linecap="butt"/>
<line x1="584" y1="603.3" x2="588" y2="603.3" stroke="#000" stroke-width="2" stroke-linecap="butt"/>
<line x1="580" y1="598.2" x2="588" y2="598.2" stroke="#000" stroke-width="2.2" stroke-linecap="butt"/>
<path transform="translate(514.29,605.4) scale(0.01318,-0.01285)" d="M763,0H583V1147Q518,1085 412,1023Q306,961 222,930V1104Q373,1175 486,1276Q599,1377 646,1472H763Z" fill="#000"/>
<text x="529.31" y="605.4" font-family='"Liberation Sans", sans-serif' font-size="27" font-weight="normal" font-style="normal" fill="#000">000</text>
<line x1="584" y1="564.67" x2="588" y2="564.67" stroke="#000" stroke-width="2" stroke-linecap="butt"/>
<line x1="599" y1="933" x2="599" y2="941" stroke="#000" stroke-width="2.2" stroke-linecap="butt"/>
<text x="571.91" y="965.8" font-family='"Liberation Sans", sans-serif' font-size="27" font-weight="normal" font-style="normal" fill="#000">-</text>
<path transform="translate(580.9,965.8) scale(0.01318,-0.01285)" d="M763,0H583V1147Q518,1085 412,1023Q306,961 222,930V1104Q373,1175 486,1276Q599,1377 646,1472H763Z" fill="#000"/>
<text x="595.92" y="965.8" font-family='"Liberation Sans", sans-serif' font-size="27" font-weight="normal" font-style="normal" fill="#000">40</text>
<line x1="634.2" y1="933" x2="634.2" y2="937" stroke="#000" stroke-width="2.2" stroke-linecap="butt"/>
<line x1="669.4" y1="933" x2="669.4" y2="941" stroke="#000" stroke-width="2.2" stroke-linecap="butt"/>
<text x="642.31" y="965.8" font-family='"Liberation Sans", sans-serif' font-size="27" font-weight="normal" font-style="normal" fill="#000">-</text>
<path transform="translate(651.3,965.8) scale(0.01318,-0.01285)" d="M763,0H583V1147Q518,1085 412,1023Q306,961 222,930V1104Q373,1175 486,1276Q599,1377 646,1472H763Z" fill="#000"/>
<text x="666.32" y="965.8" font-family='"Liberation Sans", sans-serif' font-size="27" font-weight="normal" font-style="normal" fill="#000">20</text>
<line x1="704.6" y1="933" x2="704.6" y2="937" stroke="#000" stroke-width="2.2" stroke-linecap="butt"/>
<line x1="739.8" y1="933" x2="739.8" y2="941" stroke="#000" stroke-width="2.2" stroke-linecap="butt"/>
<text x="712.71" y="965.8" font-family='"Liberation Sans", sans-serif' font-size="27" font-weight="normal" font-style="normal" fill="#000">-</text>
<path transform="translate(721.7,965.8) scale(0.01318,-0.01285)" d="M763,0H583V1147Q518,1085 412,1023Q306,961 222,930V1104Q373,1175 486,1276Q599,1377 646,1472H763Z" fill="#000"/>
<text x="736.72" y="965.8" font-family='"Liberation Sans", sans-serif' font-size="27" font-weight="normal" font-style="normal" fill="#000">00</text>
<line x1="775" y1="933" x2="775" y2="937" stroke="#000" stroke-width="2.2" stroke-linecap="butt"/>
<line x1="810.2" y1="933" x2="810.2" y2="941" stroke="#000" stroke-width="2.2" stroke-linecap="butt"/>
<text x="790.62" y="965.8" font-family='"Liberation Sans", sans-serif' font-size="27" font-weight="normal" font-style="normal" fill="#000">-80</text>
<line x1="845.4" y1="933" x2="845.4" y2="937" stroke="#000" stroke-width="2.2" stroke-linecap="butt"/>
<line x1="880.6" y1="933" x2="880.6" y2="941" stroke="#000" stroke-width="2.2" stroke-linecap="butt"/>
<text x="861.02" y="965.8" font-family='"Liberation Sans", sans-serif' font-size="27" font-weight="normal" font-style="normal" fill="#000">-60</text>
<text x="694.77" y="998" font-family='"Liberation Sans", sans-serif' font-size="27" font-weight="normal" font-style="italic" fill="#000">V</text>
<text x="711.87" y="1004.3" font-family='"Liberation Sans", sans-serif' font-size="24.5" font-weight="normal" font-style="normal" fill="#000">ret</text>
<text x="749.8" y="998" font-family='"Liberation Sans", sans-serif' font-size="27.4" font-weight="normal" font-style="normal" fill="#000">(mV)</text>
<text transform="translate(512.6,789.49) rotate(-90)" font-family='"Liberation Serif", serif' font-size="27" font-weight="normal" font-style="italic" fill="#000">τ</text>
<text transform="translate(527.5,780.31) rotate(-90)" font-family='"Liberation Sans", sans-serif' font-size="24" font-weight="normal" font-style="normal" fill="#000">deact</text>
<text transform="translate(512.6,710.27) rotate(-90)" font-family='"Liberation Sans", sans-serif' font-size="27" font-weight="normal" font-style="normal" fill="#000">(ms)</text>
<path d="M599,870.97 L634.2,864.49 L669.4,857.02 L704.6,847.02 L739.8,836.03 L810.2,823.48 L845.4,809.06 L880.6,794.48" fill="none" stroke="#000" stroke-width="2" stroke-linejoin="round"/>
<rect x="594" y="865.97" width="10" height="10" fill="#000"/>
<rect x="629.2" y="859.49" width="10" height="10" fill="#000"/>
<rect x="664.4" y="852.02" width="10" height="10" fill="#000"/>
<rect x="699.6" y="842.02" width="10" height="10" fill="#000"/>
<rect x="734.8" y="831.03" width="10" height="10" fill="#000"/>
<rect x="805.2" y="818.48" width="10" height="10" fill="#000"/>
<rect x="840.4" y="804.06" width="10" height="10" fill="#000"/>
<rect x="875.6" y="789.48" width="10" height="10" fill="#000"/>
<path d="M599,825.03 L634.2,822.97 L669.4,820.04 L704.6,814.24 L739.8,821.49 L810.2,772.95 L845.4,756.92 L880.6,750.43" fill="none" stroke="#f00" stroke-width="2" stroke-linejoin="round"/>
<line x1="599" y1="816.12" x2="599" y2="833.95" stroke="#f00" stroke-width="2" stroke-linecap="butt"/>
<line x1="595" y1="816.12" x2="603" y2="816.12" stroke="#f00" stroke-width="2" stroke-linecap="butt"/>
<line x1="595" y1="833.95" x2="603" y2="833.95" stroke="#f00" stroke-width="2" stroke-linecap="butt"/>
<rect x="594" y="820.03" width="10" height="10" fill="#f00"/>
<line x1="634.2" y1="814.06" x2="634.2" y2="831.89" stroke="#f00" stroke-width="2" stroke-linecap="butt"/>
<line x1="630.2" y1="814.06" x2="638.2" y2="814.06" stroke="#f00" stroke-width="2" stroke-linecap="butt"/>
<line x1="630.2" y1="831.89" x2="638.2" y2="831.89" stroke="#f00" stroke-width="2" stroke-linecap="butt"/>
<rect x="629.2" y="817.97" width="10" height="10" fill="#f00"/>
<line x1="669.4" y1="812.24" x2="669.4" y2="827.84" stroke="#f00" stroke-width="2" stroke-linecap="butt"/>
<line x1="665.4" y1="812.24" x2="673.4" y2="812.24" stroke="#f00" stroke-width="2" stroke-linecap="butt"/>
<line x1="665.4" y1="827.84" x2="673.4" y2="827.84" stroke="#f00" stroke-width="2" stroke-linecap="butt"/>
<rect x="664.4" y="815.04" width="10" height="10" fill="#f00"/>
<line x1="704.6" y1="807.55" x2="704.6" y2="820.92" stroke="#f00" stroke-width="2" stroke-linecap="butt"/>
<line x1="700.6" y1="807.55" x2="708.6" y2="807.55" stroke="#f00" stroke-width="2" stroke-linecap="butt"/>
<line x1="700.6" y1="820.92" x2="708.6" y2="820.92" stroke="#f00" stroke-width="2" stroke-linecap="butt"/>
<rect x="699.6" y="809.24" width="10" height="10" fill="#f00"/>
<line x1="739.8" y1="813.69" x2="739.8" y2="829.28" stroke="#f00" stroke-width="2" stroke-linecap="butt"/>
<line x1="735.8" y1="813.69" x2="743.8" y2="813.69" stroke="#f00" stroke-width="2" stroke-linecap="butt"/>
<line x1="735.8" y1="829.28" x2="743.8" y2="829.28" stroke="#f00" stroke-width="2" stroke-linecap="butt"/>
<rect x="734.8" y="816.49" width="10" height="10" fill="#f00"/>
<line x1="810.2" y1="768.49" x2="810.2" y2="777.4" stroke="#f00" stroke-width="2" stroke-linecap="butt"/>
<line x1="806.2" y1="768.49" x2="814.2" y2="768.49" stroke="#f00" stroke-width="2" stroke-linecap="butt"/>
<line x1="806.2" y1="777.4" x2="814.2" y2="777.4" stroke="#f00" stroke-width="2" stroke-linecap="butt"/>
<rect x="805.2" y="767.95" width="10" height="10" fill="#f00"/>
<line x1="845.4" y1="751.35" x2="845.4" y2="762.49" stroke="#f00" stroke-width="2" stroke-linecap="butt"/>
<line x1="841.4" y1="751.35" x2="849.4" y2="751.35" stroke="#f00" stroke-width="2" stroke-linecap="butt"/>
<line x1="841.4" y1="762.49" x2="849.4" y2="762.49" stroke="#f00" stroke-width="2" stroke-linecap="butt"/>
<rect x="840.4" y="751.92" width="10" height="10" fill="#f00"/>
<line x1="880.6" y1="745.98" x2="880.6" y2="754.89" stroke="#f00" stroke-width="2" stroke-linecap="butt"/>
<line x1="876.6" y1="745.98" x2="884.6" y2="745.98" stroke="#f00" stroke-width="2" stroke-linecap="butt"/>
<line x1="876.6" y1="754.89" x2="884.6" y2="754.89" stroke="#f00" stroke-width="2" stroke-linecap="butt"/>
<rect x="875.6" y="745.43" width="10" height="10" fill="#f00"/>
<path d="M599,732.96 L634.2,724.96 L669.4,716.95 L704.6,702 L739.8,689.98 L810.2,619.04 L845.4,598.98 L880.6,580.02" fill="none" stroke="#f00" stroke-width="2" stroke-linejoin="round"/>
<line x1="599" y1="725.16" x2="599" y2="740.76" stroke="#f00" stroke-width="2" stroke-linecap="butt"/>
<line x1="595" y1="725.16" x2="603" y2="725.16" stroke="#f00" stroke-width="2" stroke-linecap="butt"/>
<line x1="595" y1="740.76" x2="603" y2="740.76" stroke="#f00" stroke-width="2" stroke-linecap="butt"/>
<circle cx="599" cy="732.96" r="5.5" fill="#f00"/>
<line x1="634.2" y1="718.27" x2="634.2" y2="731.64" stroke="#f00" stroke-width="2" stroke-linecap="butt"/>
<line x1="630.2" y1="718.27" x2="638.2" y2="718.27" stroke="#f00" stroke-width="2" stroke-linecap="butt"/>
<line x1="630.2" y1="731.64" x2="638.2" y2="731.64" stroke="#f00" stroke-width="2" stroke-linecap="butt"/>
<circle cx="634.2" cy="724.96" r="5.5" fill="#f00"/>
<line x1="669.4" y1="710.27" x2="669.4" y2="723.64" stroke="#f00" stroke-width="2" stroke-linecap="butt"/>
<line x1="665.4" y1="710.27" x2="673.4" y2="710.27" stroke="#f00" stroke-width="2" stroke-linecap="butt"/>
<line x1="665.4" y1="723.64" x2="673.4" y2="723.64" stroke="#f00" stroke-width="2" stroke-linecap="butt"/>
<circle cx="669.4" cy="716.95" r="5.5" fill="#f00"/>
<line x1="704.6" y1="695.32" x2="704.6" y2="708.69" stroke="#f00" stroke-width="2" stroke-linecap="butt"/>
<line x1="700.6" y1="695.32" x2="708.6" y2="695.32" stroke="#f00" stroke-width="2" stroke-linecap="butt"/>
<line x1="700.6" y1="708.69" x2="708.6" y2="708.69" stroke="#f00" stroke-width="2" stroke-linecap="butt"/>
<circle cx="704.6" cy="702" r="5.5" fill="#f00"/>
<line x1="739.8" y1="685.53" x2="739.8" y2="694.44" stroke="#f00" stroke-width="2" stroke-linecap="butt"/>
<line x1="735.8" y1="685.53" x2="743.8" y2="685.53" stroke="#f00" stroke-width="2" stroke-linecap="butt"/>
<line x1="735.8" y1="694.44" x2="743.8" y2="694.44" stroke="#f00" stroke-width="2" stroke-linecap="butt"/>
<circle cx="739.8" cy="689.98" r="5.5" fill="#f00"/>
<line x1="810.2" y1="615.7" x2="810.2" y2="622.38" stroke="#f00" stroke-width="2" stroke-linecap="butt"/>
<line x1="806.2" y1="615.7" x2="814.2" y2="615.7" stroke="#f00" stroke-width="2" stroke-linecap="butt"/>
<line x1="806.2" y1="622.38" x2="814.2" y2="622.38" stroke="#f00" stroke-width="2" stroke-linecap="butt"/>
<circle cx="810.2" cy="619.04" r="5.5" fill="#f00"/>
<line x1="845.4" y1="595.64" x2="845.4" y2="602.32" stroke="#f00" stroke-width="2" stroke-linecap="butt"/>
<line x1="841.4" y1="595.64" x2="849.4" y2="595.64" stroke="#f00" stroke-width="2" stroke-linecap="butt"/>
<line x1="841.4" y1="602.32" x2="849.4" y2="602.32" stroke="#f00" stroke-width="2" stroke-linecap="butt"/>
<circle cx="845.4" cy="598.98" r="5.5" fill="#f00"/>
<line x1="880.6" y1="577.8" x2="880.6" y2="582.25" stroke="#f00" stroke-width="2" stroke-linecap="butt"/>
<line x1="876.6" y1="577.8" x2="884.6" y2="577.8" stroke="#f00" stroke-width="2" stroke-linecap="butt"/>
<line x1="876.6" y1="582.25" x2="884.6" y2="582.25" stroke="#f00" stroke-width="2" stroke-linecap="butt"/>
<circle cx="880.6" cy="580.02" r="5.5" fill="#f00"/>
<line x1="605.6" y1="569.4" x2="669" y2="569.4" stroke="#f00" stroke-width="2" stroke-linecap="butt"/>
<circle cx="637" cy="569.4" r="5.5" fill="#f00"/>
<text x="677.34" y="578.5" font-family='"Liberation Sans", sans-serif' font-size="27.5" font-weight="normal" font-style="normal" fill="#000">RPR,</text>
<text x="755.11" y="578.7" font-family='"Liberation Serif", serif' font-size="27" font-weight="normal" font-style="italic" fill="#000">τ</text>
<text x="764.86" y="589.5" font-family='"Liberation Sans", sans-serif' font-size="23" font-weight="normal" font-style="normal" fill="#000">s</text>
<line x1="605.6" y1="620.4" x2="669" y2="620.4" stroke="#f00" stroke-width="2" stroke-linecap="butt"/>
<rect x="632.2" y="615.4" width="10" height="10" fill="#f00"/>
<text x="676.44" y="629.3" font-family='"Liberation Sans", sans-serif' font-size="27.5" font-weight="normal" font-style="normal" fill="#000">RPR,</text>
<text x="753.21" y="629.5" font-family='"Liberation Serif", serif' font-size="27" font-weight="normal" font-style="italic" fill="#000">τ</text>
<text x="763.37" y="640" font-family='"Liberation Sans", sans-serif' font-size="23" font-weight="normal" font-style="normal" fill="#000">f</text>
<line x1="601" y1="910" x2="664" y2="910" stroke="#000" stroke-width="2" stroke-linecap="butt"/>
<rect x="628" y="905" width="10" height="10" fill="#000"/>
<text x="672.93" y="918.5" font-family='"Liberation Sans", sans-serif' font-size="27.5" font-weight="normal" font-style="normal" fill="#000">control</text>
<text x="913.49" y="544" font-family='"Liberation Sans", sans-serif' font-size="45" font-weight="bold" font-style="normal" fill="#000">E</text>
<line x1="993.6" y1="564" x2="993.6" y2="933.8" stroke="#000" stroke-width="2" stroke-linecap="butt"/>
<line x1="986" y1="932.8" x2="1251" y2="932.8" stroke="#000" stroke-width="2.2" stroke-linecap="butt"/>
<line x1="986" y1="932.6" x2="993.6" y2="932.6" stroke="#000" stroke-width="2" stroke-linecap="butt"/>
<text x="943.62" y="940.2" font-family='"Liberation Sans", sans-serif' font-size="27" font-weight="normal" font-style="normal" fill="#000">0.0</text>
<line x1="989.5" y1="896.5" x2="993.6" y2="896.5" stroke="#000" stroke-width="2" stroke-linecap="butt"/>
<line x1="986" y1="860.4" x2="993.6" y2="860.4" stroke="#000" stroke-width="2" stroke-linecap="butt"/>
<text x="943.92" y="868" font-family='"Liberation Sans", sans-serif' font-size="27" font-weight="normal" font-style="normal" fill="#000">0.2</text>
<line x1="989.5" y1="824.3" x2="993.6" y2="824.3" stroke="#000" stroke-width="2" stroke-linecap="butt"/>
<line x1="986" y1="788.2" x2="993.6" y2="788.2" stroke="#000" stroke-width="2" stroke-linecap="butt"/>
<text x="943.36" y="795.8" font-family='"Liberation Sans", sans-serif' font-size="27" font-weight="normal" font-style="normal" fill="#000">0.4</text>
<line x1="989.5" y1="752.1" x2="993.6" y2="752.1" stroke="#000" stroke-width="2" stroke-linecap="butt"/>
<line x1="986" y1="716" x2="993.6" y2="716" stroke="#000" stroke-width="2" stroke-linecap="butt"/>
<text x="943.75" y="723.6" font-family='"Liberation Sans", sans-serif' font-size="27" font-weight="normal" font-style="normal" fill="#000">0.6</text>
<line x1="989.5" y1="679.9" x2="993.6" y2="679.9" stroke="#000" stroke-width="2" stroke-linecap="butt"/>
<line x1="986" y1="643.8" x2="993.6" y2="643.8" stroke="#000" stroke-width="2" stroke-linecap="butt"/>
<text x="943.74" y="651.4" font-family='"Liberation Sans", sans-serif' font-size="27" font-weight="normal" font-style="normal" fill="#000">0.8</text>
<line x1="989.5" y1="607.7" x2="993.6" y2="607.7" stroke="#000" stroke-width="2" stroke-linecap="butt"/>
<line x1="986" y1="571.6" x2="993.6" y2="571.6" stroke="#000" stroke-width="2" stroke-linecap="butt"/>
<path transform="translate(943.62,579.2) scale(0.01318,-0.01285)" d="M763,0H583V1147Q518,1085 412,1023Q306,961 222,930V1104Q373,1175 486,1276Q599,1377 646,1472H763Z" fill="#000"/>
<text x="958.64" y="579.2" font-family='"Liberation Sans", sans-serif' font-size="27" font-weight="normal" font-style="normal" fill="#000">.0</text>
<line x1="1002.4" y1="932.8" x2="1002.4" y2="940.3" stroke="#000" stroke-width="2" stroke-linecap="butt"/>
<text x="975.31" y="965.2" font-family='"Liberation Sans", sans-serif' font-size="27" font-weight="normal" font-style="normal" fill="#000">-</text>
<path transform="translate(984.3,965.2) scale(0.01318,-0.01285)" d="M763,0H583V1147Q518,1085 412,1023Q306,961 222,930V1104Q373,1175 486,1276Q599,1377 646,1472H763Z" fill="#000"/>
<text x="999.32" y="965.2" font-family='"Liberation Sans", sans-serif' font-size="27" font-weight="normal" font-style="normal" fill="#000">40</text>
<line x1="1032.2" y1="932.8" x2="1032.2" y2="936.8" stroke="#000" stroke-width="2" stroke-linecap="butt"/>
<line x1="1062" y1="932.8" x2="1062" y2="940.3" stroke="#000" stroke-width="2" stroke-linecap="butt"/>
<text x="1034.91" y="965.2" font-family='"Liberation Sans", sans-serif' font-size="27" font-weight="normal" font-style="normal" fill="#000">-</text>
<path transform="translate(1043.9,965.2) scale(0.01318,-0.01285)" d="M763,0H583V1147Q518,1085 412,1023Q306,961 222,930V1104Q373,1175 486,1276Q599,1377 646,1472H763Z" fill="#000"/>
<text x="1058.92" y="965.2" font-family='"Liberation Sans", sans-serif' font-size="27" font-weight="normal" font-style="normal" fill="#000">20</text>
<line x1="1091.8" y1="932.8" x2="1091.8" y2="936.8" stroke="#000" stroke-width="2" stroke-linecap="butt"/>
<line x1="1121.6" y1="932.8" x2="1121.6" y2="940.3" stroke="#000" stroke-width="2" stroke-linecap="butt"/>
<text x="1094.51" y="965.2" font-family='"Liberation Sans", sans-serif' font-size="27" font-weight="normal" font-style="normal" fill="#000">-</text>
<path transform="translate(1103.5,965.2) scale(0.01318,-0.01285)" d="M763,0H583V1147Q518,1085 412,1023Q306,961 222,930V1104Q373,1175 486,1276Q599,1377 646,1472H763Z" fill="#000"/>
<text x="1118.52" y="965.2" font-family='"Liberation Sans", sans-serif' font-size="27" font-weight="normal" font-style="normal" fill="#000">00</text>
<line x1="1151.4" y1="932.8" x2="1151.4" y2="936.8" stroke="#000" stroke-width="2" stroke-linecap="butt"/>
<line x1="1181.2" y1="932.8" x2="1181.2" y2="940.3" stroke="#000" stroke-width="2" stroke-linecap="butt"/>
<text x="1161.62" y="965.2" font-family='"Liberation Sans", sans-serif' font-size="27" font-weight="normal" font-style="normal" fill="#000">-80</text>
<line x1="1211" y1="932.8" x2="1211" y2="936.8" stroke="#000" stroke-width="2" stroke-linecap="butt"/>
<line x1="1240.8" y1="932.8" x2="1240.8" y2="940.3" stroke="#000" stroke-width="2" stroke-linecap="butt"/>
<text x="1221.22" y="965.2" font-family='"Liberation Sans", sans-serif' font-size="27" font-weight="normal" font-style="normal" fill="#000">-60</text>
<text x="1074.17" y="998" font-family='"Liberation Sans", sans-serif' font-size="27" font-weight="normal" font-style="italic" fill="#000">V</text>
<text x="1091.17" y="1004.5" font-family='"Liberation Sans", sans-serif' font-size="24.5" font-weight="normal" font-style="normal" fill="#000">ret</text>
<text x="1128.5" y="998" font-family='"Liberation Sans", sans-serif' font-size="27.4" font-weight="normal" font-style="normal" fill="#000">(mV)</text>
<text transform="translate(927.1,816.67) rotate(-90)" font-family='"Liberation Sans", sans-serif' font-size="27" font-weight="normal" font-style="italic" fill="#000">A</text>
<text transform="translate(934.3,799.23) rotate(-90)" font-family='"Liberation Sans", sans-serif' font-size="22.5" font-weight="normal" font-style="normal" fill="#000">s</text>
<text transform="translate(927.1,786.3) rotate(-90)" font-family='"Liberation Sans", sans-serif' font-size="27" font-weight="normal" font-style="normal" fill="#000">/(</text>
<text transform="translate(927.1,765.47) rotate(-90)" font-family='"Liberation Sans", sans-serif' font-size="27" font-weight="normal" font-style="italic" fill="#000">A</text>
<text transform="translate(934.3,747.33) rotate(-90)" font-family='"Liberation Sans", sans-serif' font-size="22.5" font-weight="normal" font-style="normal" fill="#000">s</text>
<text transform="translate(927.1,734.92) rotate(-90)" font-family='"Liberation Sans", sans-serif' font-size="27" font-weight="normal" font-style="normal" fill="#000">+</text>
<text transform="translate(927.1,717.57) rotate(-90)" font-family='"Liberation Sans", sans-serif' font-size="27" font-weight="normal" font-style="italic" fill="#000">A</text>
<text transform="translate(933.9,700.12) rotate(-90)" font-family='"Liberation Sans", sans-serif' font-size="22.5" font-weight="normal" font-style="normal" fill="#000">f</text>
<text transform="translate(927.1,691.66) rotate(-90)" font-family='"Liberation Sans", sans-serif' font-size="27" font-weight="normal" font-style="normal" fill="#000">)</text>
<path d="M1002.4,815.27 L1032.2,803 L1062,794.34 L1091.8,778.09 L1121.6,760.76 L1181.2,808.06 L1211,784.59 L1240.8,761.49" fill="none" stroke="#f00" stroke-width="2" stroke-linejoin="round"/>
<line x1="1002.4" y1="812.39" x2="1002.4" y2="818.16" stroke="#f00" stroke-width="2" stroke-linecap="butt"/>
<line x1="997.9" y1="812.39" x2="1006.9" y2="812.39" stroke="#f00" stroke-width="2" stroke-linecap="butt"/>
<line x1="997.9" y1="818.16" x2="1006.9" y2="818.16" stroke="#f00" stroke-width="2" stroke-linecap="butt"/>
<circle cx="1002.4" cy="815.27" r="5.6" fill="#f00"/>
<line x1="1032.2" y1="799.39" x2="1032.2" y2="806.61" stroke="#f00" stroke-width="2" stroke-linecap="butt"/>
<line x1="1027.7" y1="799.39" x2="1036.7" y2="799.39" stroke="#f00" stroke-width="2" stroke-linecap="butt"/>
<line x1="1027.7" y1="806.61" x2="1036.7" y2="806.61" stroke="#f00" stroke-width="2" stroke-linecap="butt"/>
<circle cx="1032.2" cy="803" r="5.6" fill="#f00"/>
<line x1="1062" y1="787.48" x2="1062" y2="801.2" stroke="#f00" stroke-width="2" stroke-linecap="butt"/>
<line x1="1057.5" y1="787.48" x2="1066.5" y2="787.48" stroke="#f00" stroke-width="2" stroke-linecap="butt"/>
<line x1="1057.5" y1="801.2" x2="1066.5" y2="801.2" stroke="#f00" stroke-width="2" stroke-linecap="butt"/>
<circle cx="1062" cy="794.34" r="5.6" fill="#f00"/>
<circle cx="1091.8" cy="778.09" r="5.6" fill="#f00"/>
<line x1="1121.6" y1="750.3" x2="1121.6" y2="771.23" stroke="#f00" stroke-width="2" stroke-linecap="butt"/>
<line x1="1117.1" y1="750.3" x2="1126.1" y2="750.3" stroke="#f00" stroke-width="2" stroke-linecap="butt"/>
<line x1="1117.1" y1="771.23" x2="1126.1" y2="771.23" stroke="#f00" stroke-width="2" stroke-linecap="butt"/>
<circle cx="1121.6" cy="760.76" r="5.6" fill="#f00"/>
<line x1="1181.2" y1="787.12" x2="1181.2" y2="828.99" stroke="#f00" stroke-width="2" stroke-linecap="butt"/>
<line x1="1176.7" y1="787.12" x2="1185.7" y2="787.12" stroke="#f00" stroke-width="2" stroke-linecap="butt"/>
<line x1="1176.7" y1="828.99" x2="1185.7" y2="828.99" stroke="#f00" stroke-width="2" stroke-linecap="butt"/>
<circle cx="1181.2" cy="808.06" r="5.6" fill="#f00"/>
<line x1="1211" y1="768.35" x2="1211" y2="800.84" stroke="#f00" stroke-width="2" stroke-linecap="butt"/>
<line x1="1206.5" y1="768.35" x2="1215.5" y2="768.35" stroke="#f00" stroke-width="2" stroke-linecap="butt"/>
<line x1="1206.5" y1="800.84" x2="1215.5" y2="800.84" stroke="#f00" stroke-width="2" stroke-linecap="butt"/>
<circle cx="1211" cy="784.59" r="5.6" fill="#f00"/>
<line x1="1240.8" y1="746.69" x2="1240.8" y2="776.29" stroke="#f00" stroke-width="2" stroke-linecap="butt"/>
<line x1="1236.3" y1="746.69" x2="1245.3" y2="746.69" stroke="#f00" stroke-width="2" stroke-linecap="butt"/>
<line x1="1236.3" y1="776.29" x2="1245.3" y2="776.29" stroke="#f00" stroke-width="2" stroke-linecap="butt"/>
<circle cx="1240.8" cy="761.49" r="5.6" fill="#f00"/>
</svg>
</body></html>
